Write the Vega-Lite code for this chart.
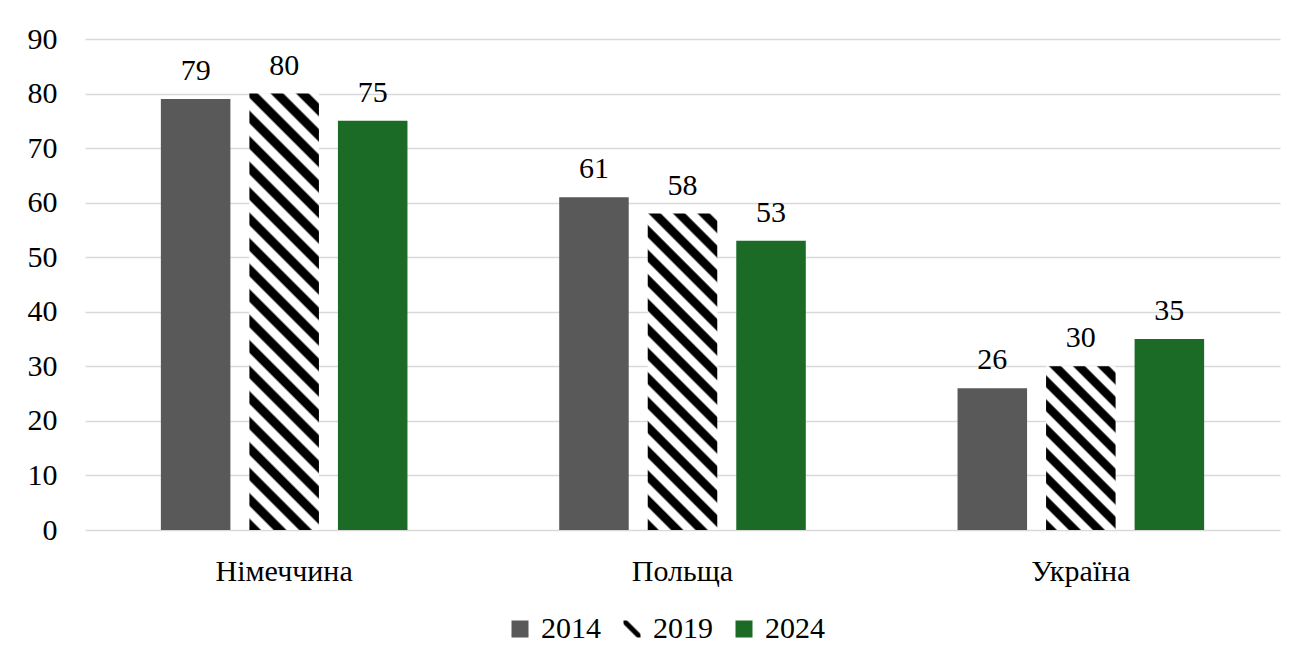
{
  "$schema": "https://vega.github.io/schema/vega-lite/v6.json",
  "width": 1195,
  "height": 491,
  "autosize": {"type": "none"},
  "padding": {"left": 85, "top": 39, "right": 35, "bottom": 134},
  "background": "#ffffff",
  "config": {
    "view": {"stroke": null},
    "font": "'Liberation Serif', 'Noto Serif', 'DejaVu Serif', serif",
    "axis": {"labelFont": "'Liberation Serif', 'Noto Serif', 'DejaVu Serif', serif", "labelColor": "#000000"},
    "legend": {"labelFont": "'Liberation Serif', 'Noto Serif', 'DejaVu Serif', serif", "labelColor": "#000000"}
  },
  "data": {
    "values": [
      {"country": "Німеччина", "year": "2014", "value": 79},
      {"country": "Німеччина", "year": "2019", "value": 80},
      {"country": "Німеччина", "year": "2024", "value": 75},
      {"country": "Польща", "year": "2014", "value": 61},
      {"country": "Польща", "year": "2019", "value": 58},
      {"country": "Польща", "year": "2024", "value": 53},
      {"country": "Україна", "year": "2014", "value": 26},
      {"country": "Україна", "year": "2019", "value": 30},
      {"country": "Україна", "year": "2024", "value": 35}
    ]
  },
  "encoding": {
    "x": {
      "field": "country", "type": "nominal", "sort": null,
      "scale": {"paddingInner": 0, "paddingOuter": 0},
      "axis": {"title": null, "labelAngle": 0, "domain": false, "ticks": false, "labelFontSize": 30, "labelPadding": 26}
    },
    "xOffset": {
      "field": "year", "type": "nominal",
      "scale": {"paddingInner": 0.2147, "paddingOuter": 0.857}
    },
    "y": {
      "field": "value", "type": "quantitative",
      "scale": {"domain": [0, 90], "nice": false},
      "axis": {"title": null, "values": [0,10,20,30,40,50,60,70,80,90], "domain": false, "ticks": false, "gridColor": "#d9d9d9", "gridWidth": 1.5, "labelFontSize": 30, "labelPadding": 28}
    }
  },
  "layer": [
    {
      "mark": {"type": "bar", "strokeWidth": 0},
      "encoding": {
        "fill": {
          "field": "year", "type": "nominal",
          "scale": {"domain": ["2014", "2019", "2024"], "range": ["#595959",
            {"expr": "{gradient: 'linear', x1: 0, y1: 1, x2: 1, y2: 0, stops: [{offset: 0, color: '#ffffff'}, {offset: 0.36, color: '#ffffff'}, {offset: 0.43, color: '#000000'}, {offset: 0.57, color: '#000000'}, {offset: 0.64, color: '#ffffff'}, {offset: 1, color: '#ffffff'}]}"},
            "#1b6a25"]},
          "legend": {
            "title": null, "orient": "none", "direction": "horizontal",
            "legendX": 420, "legendY": 575, "padding": 0,
            "symbolType": "square", "symbolSize": 289, "symbolStrokeWidth": 0,
            "labelFontSize": 30, "labelOffset": 6, "columnPadding": 16
          },
          "condition": [
            {"test": "datum.country === 'Німеччина' && datum.year === '2019'", "value": {"gradient": "linear", "x1": 0, "y1": 1, "x2": 0.18148, "y2": -0.13965, "stops": [
              {"offset": 0, "color": "#000000"}, {"offset": 0.02, "color": "#000000"}, {"offset": 0.025, "color": "#ffffff"}, {"offset": 0.045, "color": "#ffffff"},
              {"offset": 0.05, "color": "#000000"}, {"offset": 0.07, "color": "#000000"}, {"offset": 0.075, "color": "#ffffff"}, {"offset": 0.095, "color": "#ffffff"},
              {"offset": 0.1, "color": "#000000"}, {"offset": 0.12, "color": "#000000"}, {"offset": 0.125, "color": "#ffffff"}, {"offset": 0.145, "color": "#ffffff"},
              {"offset": 0.15, "color": "#000000"}, {"offset": 0.17, "color": "#000000"}, {"offset": 0.175, "color": "#ffffff"}, {"offset": 0.195, "color": "#ffffff"},
              {"offset": 0.2, "color": "#000000"}, {"offset": 0.22, "color": "#000000"}, {"offset": 0.225, "color": "#ffffff"}, {"offset": 0.245, "color": "#ffffff"},
              {"offset": 0.25, "color": "#000000"}, {"offset": 0.27, "color": "#000000"}, {"offset": 0.275, "color": "#ffffff"}, {"offset": 0.295, "color": "#ffffff"},
              {"offset": 0.3, "color": "#000000"}, {"offset": 0.32, "color": "#000000"}, {"offset": 0.325, "color": "#ffffff"}, {"offset": 0.345, "color": "#ffffff"},
              {"offset": 0.35, "color": "#000000"}, {"offset": 0.37, "color": "#000000"}, {"offset": 0.375, "color": "#ffffff"}, {"offset": 0.395, "color": "#ffffff"},
              {"offset": 0.4, "color": "#000000"}, {"offset": 0.42, "color": "#000000"}, {"offset": 0.425, "color": "#ffffff"}, {"offset": 0.445, "color": "#ffffff"},
              {"offset": 0.45, "color": "#000000"}, {"offset": 0.47, "color": "#000000"}, {"offset": 0.475, "color": "#ffffff"}, {"offset": 0.495, "color": "#ffffff"},
              {"offset": 0.5, "color": "#000000"}, {"offset": 0.52, "color": "#000000"}, {"offset": 0.525, "color": "#ffffff"}, {"offset": 0.545, "color": "#ffffff"},
              {"offset": 0.55, "color": "#000000"}, {"offset": 0.57, "color": "#000000"}, {"offset": 0.575, "color": "#ffffff"}, {"offset": 0.595, "color": "#ffffff"},
              {"offset": 0.6, "color": "#000000"}, {"offset": 0.62, "color": "#000000"}, {"offset": 0.625, "color": "#ffffff"}, {"offset": 0.645, "color": "#ffffff"},
              {"offset": 0.65, "color": "#000000"}, {"offset": 0.67, "color": "#000000"}, {"offset": 0.675, "color": "#ffffff"}, {"offset": 0.695, "color": "#ffffff"},
              {"offset": 0.7, "color": "#000000"}, {"offset": 0.72, "color": "#000000"}, {"offset": 0.725, "color": "#ffffff"}, {"offset": 0.745, "color": "#ffffff"},
              {"offset": 0.75, "color": "#000000"}, {"offset": 0.77, "color": "#000000"}, {"offset": 0.775, "color": "#ffffff"}, {"offset": 0.795, "color": "#ffffff"},
              {"offset": 0.8, "color": "#000000"}, {"offset": 0.82, "color": "#000000"}, {"offset": 0.825, "color": "#ffffff"}, {"offset": 0.845, "color": "#ffffff"},
              {"offset": 0.85, "color": "#000000"}, {"offset": 0.87, "color": "#000000"}, {"offset": 0.875, "color": "#ffffff"}, {"offset": 0.895, "color": "#ffffff"},
              {"offset": 0.9, "color": "#000000"}, {"offset": 0.92, "color": "#000000"}, {"offset": 0.925, "color": "#ffffff"}, {"offset": 0.945, "color": "#ffffff"},
              {"offset": 0.95, "color": "#000000"}, {"offset": 0.97, "color": "#000000"}, {"offset": 0.975, "color": "#ffffff"}, {"offset": 0.995, "color": "#ffffff"}
            ]}},
            {"test": "datum.country === 'Польща' && datum.year === '2019'", "value": {"gradient": "linear", "x1": 0, "y1": 1, "x2": 0.25959, "y2": -0.18183, "stops": [
              {"offset": 0, "color": "#000000"}, {"offset": 0.025, "color": "#000000"}, {"offset": 0.03125, "color": "#ffffff"}, {"offset": 0.05625, "color": "#ffffff"},
              {"offset": 0.0625, "color": "#000000"}, {"offset": 0.0875, "color": "#000000"}, {"offset": 0.09375, "color": "#ffffff"}, {"offset": 0.11875, "color": "#ffffff"},
              {"offset": 0.125, "color": "#000000"}, {"offset": 0.15, "color": "#000000"}, {"offset": 0.15625, "color": "#ffffff"}, {"offset": 0.18125, "color": "#ffffff"},
              {"offset": 0.1875, "color": "#000000"}, {"offset": 0.2125, "color": "#000000"}, {"offset": 0.21875, "color": "#ffffff"}, {"offset": 0.24375, "color": "#ffffff"},
              {"offset": 0.25, "color": "#000000"}, {"offset": 0.275, "color": "#000000"}, {"offset": 0.28125, "color": "#ffffff"}, {"offset": 0.30625, "color": "#ffffff"},
              {"offset": 0.3125, "color": "#000000"}, {"offset": 0.3375, "color": "#000000"}, {"offset": 0.34375, "color": "#ffffff"}, {"offset": 0.36875, "color": "#ffffff"},
              {"offset": 0.375, "color": "#000000"}, {"offset": 0.4, "color": "#000000"}, {"offset": 0.40625, "color": "#ffffff"}, {"offset": 0.43125, "color": "#ffffff"},
              {"offset": 0.4375, "color": "#000000"}, {"offset": 0.4625, "color": "#000000"}, {"offset": 0.46875, "color": "#ffffff"}, {"offset": 0.49375, "color": "#ffffff"},
              {"offset": 0.5, "color": "#000000"}, {"offset": 0.525, "color": "#000000"}, {"offset": 0.53125, "color": "#ffffff"}, {"offset": 0.55625, "color": "#ffffff"},
              {"offset": 0.5625, "color": "#000000"}, {"offset": 0.5875, "color": "#000000"}, {"offset": 0.59375, "color": "#ffffff"}, {"offset": 0.61875, "color": "#ffffff"},
              {"offset": 0.625, "color": "#000000"}, {"offset": 0.65, "color": "#000000"}, {"offset": 0.65625, "color": "#ffffff"}, {"offset": 0.68125, "color": "#ffffff"},
              {"offset": 0.6875, "color": "#000000"}, {"offset": 0.7125, "color": "#000000"}, {"offset": 0.71875, "color": "#ffffff"}, {"offset": 0.74375, "color": "#ffffff"},
              {"offset": 0.75, "color": "#000000"}, {"offset": 0.775, "color": "#000000"}, {"offset": 0.78125, "color": "#ffffff"}, {"offset": 0.80625, "color": "#ffffff"},
              {"offset": 0.8125, "color": "#000000"}, {"offset": 0.8375, "color": "#000000"}, {"offset": 0.84375, "color": "#ffffff"}, {"offset": 0.86875, "color": "#ffffff"},
              {"offset": 0.875, "color": "#000000"}, {"offset": 0.9, "color": "#000000"}, {"offset": 0.90625, "color": "#ffffff"}, {"offset": 0.93125, "color": "#ffffff"},
              {"offset": 0.9375, "color": "#000000"}, {"offset": 0.9625, "color": "#000000"}, {"offset": 0.96875, "color": "#ffffff"}, {"offset": 0.99375, "color": "#ffffff"}
            ]}},
            {"test": "datum.country === 'Україна' && datum.year === '2019'", "value": {"gradient": "linear", "x1": 0, "y1": 1, "x2": 0.52755, "y2": -0.24235, "stops": [
              {"offset": 0, "color": "#000000"}, {"offset": 0.04, "color": "#000000"}, {"offset": 0.05, "color": "#ffffff"}, {"offset": 0.09, "color": "#ffffff"},
              {"offset": 0.1, "color": "#000000"}, {"offset": 0.14, "color": "#000000"}, {"offset": 0.15, "color": "#ffffff"}, {"offset": 0.19, "color": "#ffffff"},
              {"offset": 0.2, "color": "#000000"}, {"offset": 0.24, "color": "#000000"}, {"offset": 0.25, "color": "#ffffff"}, {"offset": 0.29, "color": "#ffffff"},
              {"offset": 0.3, "color": "#000000"}, {"offset": 0.34, "color": "#000000"}, {"offset": 0.35, "color": "#ffffff"}, {"offset": 0.39, "color": "#ffffff"},
              {"offset": 0.4, "color": "#000000"}, {"offset": 0.44, "color": "#000000"}, {"offset": 0.45, "color": "#ffffff"}, {"offset": 0.49, "color": "#ffffff"},
              {"offset": 0.5, "color": "#000000"}, {"offset": 0.54, "color": "#000000"}, {"offset": 0.55, "color": "#ffffff"}, {"offset": 0.59, "color": "#ffffff"},
              {"offset": 0.6, "color": "#000000"}, {"offset": 0.64, "color": "#000000"}, {"offset": 0.65, "color": "#ffffff"}, {"offset": 0.69, "color": "#ffffff"},
              {"offset": 0.7, "color": "#000000"}, {"offset": 0.74, "color": "#000000"}, {"offset": 0.75, "color": "#ffffff"}, {"offset": 0.79, "color": "#ffffff"},
              {"offset": 0.8, "color": "#000000"}, {"offset": 0.84, "color": "#000000"}, {"offset": 0.85, "color": "#ffffff"}, {"offset": 0.89, "color": "#ffffff"},
              {"offset": 0.9, "color": "#000000"}, {"offset": 0.94, "color": "#000000"}, {"offset": 0.95, "color": "#ffffff"}, {"offset": 0.99, "color": "#ffffff"}
            ]}}
          ]
        }
      }
    },
    {
      "mark": {"type": "text", "baseline": "alphabetic", "dy": -19, "fontSize": 30, "font": "'Liberation Serif', 'Noto Serif', 'DejaVu Serif', serif", "fill": "#000000"},
      "encoding": {"text": {"field": "value", "type": "quantitative"}}
    }
  ]
}
